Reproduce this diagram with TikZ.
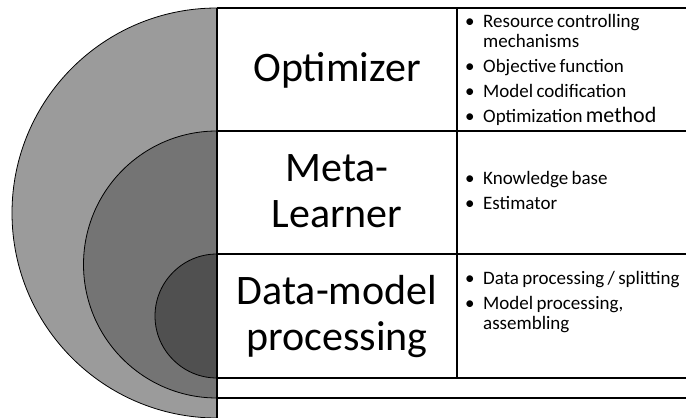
\documentclass[tikz,border=0pt]{standalone}
\usepackage{fontspec}
\setmainfont{Carlito}
\definecolor{outergray}{RGB}{155,155,155}
\definecolor{midgray}{RGB}{116,116,116}
\definecolor{innergray}{RGB}{80,80,80}
\newcommand{\bulfirst}[1]{\noindent\hangindent=18pt\hangafter=1\makebox[18pt][l]{\textbullet}#1}
\newcommand{\bulitem}[1]{\par\bulfirst{#1}}
\newcommand{\bulsetup}{\fontsize{19}{19.5}\selectfont\raggedright\lineskiplimit=-20pt\relax\parskip=5.5pt\relax\hyphenpenalty=10000\relax\exhyphenpenalty=10000\relax}
\tikzset{
  rule/.style={draw=black, line width=1.2pt},
  halfdisk/.style={draw=black, line width=0.8pt},
  bigtext/.style={font=\fontsize{42}{46}\selectfont, text width=238pt, align=center, inner sep=0pt, anchor=base},
  bultext/.style={text width=222pt, inner sep=0pt, anchor=base west}
}
\begin{document}
\begin{tikzpicture}[x=1pt,y=1pt]
\useasboundingbox (0,0) rectangle (686,418);
\fill[white] (0,0) rectangle (686,418);
% half disks
\draw[halfdisk, fill=outergray] (217,410) arc[start angle=90, end angle=270, radius=205] -- cycle;
\draw[halfdisk, fill=midgray] (217,287) arc[start angle=90, end angle=270, radius=133.5] -- cycle;
\draw[halfdisk, fill=innergray] (217,164) arc[start angle=90, end angle=270, radius=62] -- cycle;
% coordinates of the grid
\coordinate (tl) at (217,410);
\coordinate (tr) at (686,410);
\coordinate (al) at (217,287);
\coordinate (ar) at (686,287);
\coordinate (bl) at (217,164);
\coordinate (br) at (686,164);
\coordinate (cl) at (217,40);
\coordinate (cr) at (686,40);
\coordinate (dl) at (217,20);
\coordinate (dr) at (686,20);
\coordinate (bot) at (217,0);
\coordinate (mt) at (457,410);
\coordinate (mb) at (457,40);
\draw[rule] (tl) -- (tr);
\draw[rule] (al) -- (ar);
\draw[rule] (bl) -- (br);
\draw[rule] (cl) -- (cr);
\draw[rule] (dl) -- (dr);
\draw[rule] (tl) -- (bot);
\draw[rule] (mt) -- (mb);
% left column titles
\node[bigtext] (opt) at (337,336) {Optimizer};
\node[bigtext] (meta) at (337,236) {Meta-\\Learner};
\node[bigtext] (dmp) at (337,113) {Data-model\\processing};
% right column bullets
\node[bultext] (optlist) at (465,390) {\bulsetup%
\bulfirst{Resource controlling mechanisms}%
\bulitem{Objective function}%
\bulitem{Model codification}%
\bulitem{Optimization {\fontsize{22}{19.5}\selectfont method}}\par};
\node[bultext] (metalist) at (465,233) {\bulsetup%
\bulfirst{Knowledge base}%
\bulitem{Estimator}\par};
\node[bultext] (dmplist) at (465,133) {\bulsetup%
\bulfirst{Data processing / splitting}%
\bulitem{Model processing, assembling}\par};
\end{tikzpicture}
\end{document}
